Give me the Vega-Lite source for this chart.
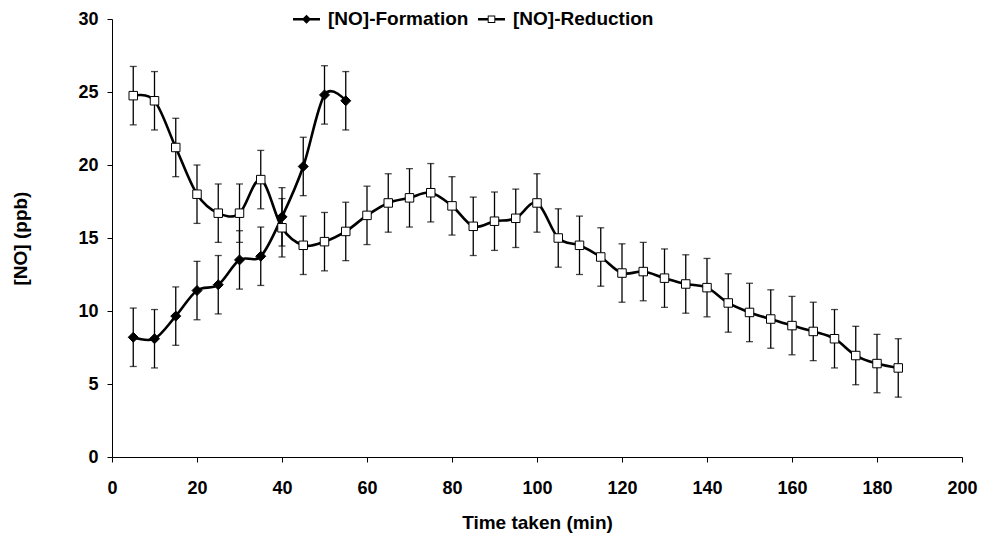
{
  "$schema": "https://vega.github.io/schema/vega-lite/v6.json",
  "width": 850,
  "height": 438,
  "autosize": {"type": "none"},
  "padding": {"left": 112, "top": 19, "right": 20, "bottom": 81},
  "background": "white",
  "config": {
    "view": {"stroke": null},
    "axis": {
      "grid": false,
      "labelFont": "Liberation Sans",
      "labelFontSize": 18,
      "labelFontWeight": "bold",
      "labelColor": "black",
      "titleFont": "Liberation Sans",
      "titleFontSize": 19,
      "titleFontWeight": "bold",
      "titleColor": "black",
      "tickColor": "black",
      "domainColor": "black",
      "tickSize": 5,
      "labelFlush": false,
      "labelOverlap": false
    }
  },
  "data": {
    "values": [
      {"series": "[NO]-Formation", "t": 5, "no": 8.2, "err": 2},
      {"series": "[NO]-Formation", "t": 10, "no": 8.1, "err": 2},
      {"series": "[NO]-Formation", "t": 15, "no": 9.65, "err": 2},
      {"series": "[NO]-Formation", "t": 20, "no": 11.4, "err": 2},
      {"series": "[NO]-Formation", "t": 25, "no": 11.8, "err": 2},
      {"series": "[NO]-Formation", "t": 30, "no": 13.5, "err": 2},
      {"series": "[NO]-Formation", "t": 35, "no": 13.75, "err": 2},
      {"series": "[NO]-Formation", "t": 40, "no": 16.45, "err": 2},
      {"series": "[NO]-Formation", "t": 45, "no": 19.9, "err": 2},
      {"series": "[NO]-Formation", "t": 50, "no": 24.8, "err": 2},
      {"series": "[NO]-Formation", "t": 55, "no": 24.4, "err": 2},
      {"series": "[NO]-Reduction", "t": 5, "no": 24.75, "err": 2},
      {"series": "[NO]-Reduction", "t": 10, "no": 24.4, "err": 2},
      {"series": "[NO]-Reduction", "t": 15, "no": 21.2, "err": 2},
      {"series": "[NO]-Reduction", "t": 20, "no": 18.0, "err": 2},
      {"series": "[NO]-Reduction", "t": 25, "no": 16.7, "err": 2},
      {"series": "[NO]-Reduction", "t": 30, "no": 16.7, "err": 2},
      {"series": "[NO]-Reduction", "t": 35, "no": 19.0, "err": 2},
      {"series": "[NO]-Reduction", "t": 40, "no": 15.7, "err": 2},
      {"series": "[NO]-Reduction", "t": 45, "no": 14.5, "err": 2},
      {"series": "[NO]-Reduction", "t": 50, "no": 14.75, "err": 2},
      {"series": "[NO]-Reduction", "t": 55, "no": 15.45, "err": 2},
      {"series": "[NO]-Reduction", "t": 60, "no": 16.55, "err": 2},
      {"series": "[NO]-Reduction", "t": 65, "no": 17.4, "err": 2},
      {"series": "[NO]-Reduction", "t": 70, "no": 17.75, "err": 2},
      {"series": "[NO]-Reduction", "t": 75, "no": 18.1, "err": 2},
      {"series": "[NO]-Reduction", "t": 80, "no": 17.2, "err": 2},
      {"series": "[NO]-Reduction", "t": 85, "no": 15.8, "err": 2},
      {"series": "[NO]-Reduction", "t": 90, "no": 16.15, "err": 2},
      {"series": "[NO]-Reduction", "t": 95, "no": 16.35, "err": 2},
      {"series": "[NO]-Reduction", "t": 100, "no": 17.4, "err": 2},
      {"series": "[NO]-Reduction", "t": 105, "no": 15.0, "err": 2},
      {"series": "[NO]-Reduction", "t": 110, "no": 14.5, "err": 2},
      {"series": "[NO]-Reduction", "t": 115, "no": 13.7, "err": 2},
      {"series": "[NO]-Reduction", "t": 120, "no": 12.6, "err": 2},
      {"series": "[NO]-Reduction", "t": 125, "no": 12.7, "err": 2},
      {"series": "[NO]-Reduction", "t": 130, "no": 12.25, "err": 2},
      {"series": "[NO]-Reduction", "t": 135, "no": 11.85, "err": 2},
      {"series": "[NO]-Reduction", "t": 140, "no": 11.6, "err": 2},
      {"series": "[NO]-Reduction", "t": 145, "no": 10.55, "err": 2},
      {"series": "[NO]-Reduction", "t": 150, "no": 9.9, "err": 2},
      {"series": "[NO]-Reduction", "t": 155, "no": 9.45, "err": 2},
      {"series": "[NO]-Reduction", "t": 160, "no": 9.0, "err": 2},
      {"series": "[NO]-Reduction", "t": 165, "no": 8.6, "err": 2},
      {"series": "[NO]-Reduction", "t": 170, "no": 8.1, "err": 2},
      {"series": "[NO]-Reduction", "t": 175, "no": 6.95, "err": 2},
      {"series": "[NO]-Reduction", "t": 180, "no": 6.4, "err": 2},
      {"series": "[NO]-Reduction", "t": 185, "no": 6.1, "err": 2}
    ]
  },
  "encoding": {
    "x": {
      "field": "t",
      "type": "quantitative",
      "scale": {"domain": [0, 200], "nice": false, "zero": false},
      "axis": {
        "values": [0, 20, 40, 60, 80, 100, 120, 140, 160, 180, 200],
        "title": "Time taken (min)",
        "labelPadding": 17,
        "titlePadding": 16
      }
    },
    "y": {
      "field": "no",
      "type": "quantitative",
      "scale": {"domain": [0, 30], "nice": false},
      "axis": {
        "values": [0, 5, 10, 15, 20, 25, 30],
        "title": "[NO] (ppb)",
        "labelPadding": 9,
        "titlePadding": 47
      }
    }
  },
  "layer": [
    {
      "mark": {
        "type": "errorbar",
        "ticks": {"size": 7, "thickness": 1.3, "color": "black"},
        "rule": {"color": "black", "strokeWidth": 1.3}
      },
      "encoding": {
        "yError": {"field": "err"}
      }
    },
    {
      "mark": {"type": "line", "interpolate": "cardinal", "strokeWidth": 2.6, "color": "black"},
      "encoding": {
        "detail": {"field": "series", "type": "nominal"}
      }
    },
    {
      "transform": [{"filter": "datum.series === '[NO]-Formation'"}],
      "mark": {"type": "point", "shape": "diamond", "filled": true, "fill": "black", "stroke": "black", "strokeWidth": 1, "size": 100, "opacity": 1}
    },
    {
      "transform": [{"filter": "datum.series === '[NO]-Reduction'"}],
      "mark": {"type": "point", "shape": "square", "filled": true, "fill": "white", "stroke": "black", "strokeWidth": 1, "size": 72, "opacity": 1}
    },
    {
      "transform": [{"filter": "false"}],
      "mark": {"type": "point", "filled": true, "color": "black", "opacity": 1},
      "encoding": {
        "shape": {
          "field": "series",
          "type": "nominal",
          "scale": {
            "domain": ["[NO]-Formation", "[NO]-Reduction"],
            "range": [
              "M-1,-0.09H1V0.09H-1ZM0,-0.34L0.34,0L0,0.34L-0.34,0Z",
              "M-1,-0.09H-0.28V0.09H-1ZM0.28,-0.09H1V0.09H0.28ZM-0.28,-0.28H0.28V0.28H-0.28ZM-0.21,-0.21V0.21H0.21V-0.21Z"
            ]
          },
          "legend": {
            "orient": "none",
            "legendX": 181,
            "legendY": -13.5,
            "direction": "horizontal",
            "title": null,
            "padding": 0,
            "symbolSize": 729,
            "symbolStrokeWidth": 0,
            "symbolFillColor": "black",
            "symbolOpacity": 1,
            "labelOffset": 8,
            "columnPadding": 9,
            "labelFont": "Liberation Sans",
            "labelFontSize": 19,
            "labelFontWeight": "bold",
            "labelColor": "black"
          }
        }
      }
    }
  ]
}
